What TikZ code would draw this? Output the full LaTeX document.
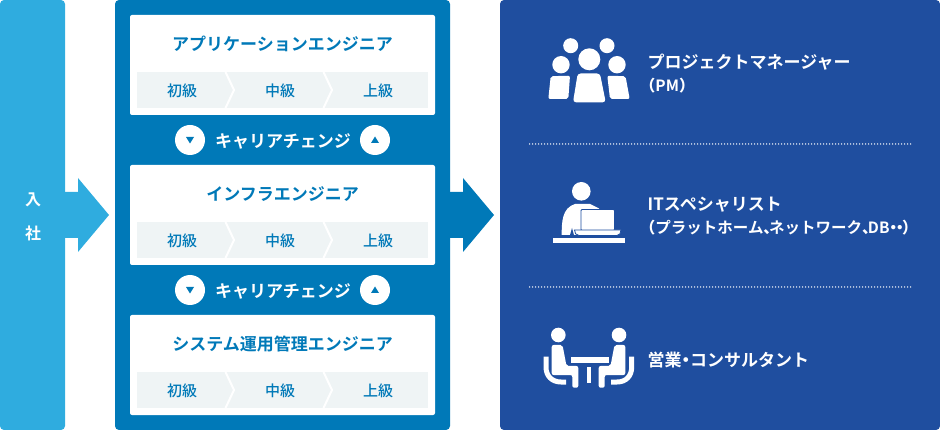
\documentclass[tikz,border=0pt]{standalone}
\usepackage{fontspec}
\setmainfont{Noto Sans CJK JP}[BoldFont={Noto Sans CJK JP Bold}]
\newfontfamily\medfont{Noto Sans CJK JP Medium}
\newfontfamily\haltb{Noto Sans CJK JP Bold}[RawFeature=+halt]
\newfontfamily\haltm{Noto Sans CJK JP Medium}[RawFeature=+halt]
\newcommand{\hp}[1]{{\haltb #1}}
\definecolor{skyc}{HTML}{2FACDF}
\definecolor{midc}{HTML}{0079B8}
\definecolor{navyc}{HTML}{1F4E9F}
\definecolor{bandc}{HTML}{EFF4F5}
\tikzset{
  title/.style={font=\fontsize{17}{17}\selectfont\bfseries,text=midc,inner sep=0pt},
  level/.style={font=\fontsize{15}{15}\selectfont\medfont,text=midc,inner sep=0pt},
  change/.style={font=\fontsize{17}{17}\selectfont\bfseries,text=white,inner sep=0pt},
  role/.style={font=\fontsize{17}{17}\selectfont\bfseries,text=white,inner sep=0pt,anchor=west},
  sub/.style={font=\fontsize{15.5}{16}\selectfont\bfseries,text=white,inner sep=0pt,anchor=west},
  joinc/.style={fill=white,draw=none,circle,minimum size=30pt,inner sep=0pt},
  sep/.style={white,line width=1.5pt,line cap=round,dash pattern=on 0pt off 3pt},
}
\newcommand{\card}[2]{%
  \fill[white,rounded corners=2pt] (130,#1) rectangle (435,#1+100);
  \node[title] at (282.5,#1+29) {#2};
  \fill[bandc] (137,#1+57) rectangle (428,#1+93);
  \draw[white,line width=2pt] (225.5,#1+57) -- (234,#1+75) -- (225.5,#1+93);
  \draw[white,line width=2pt] (323.5,#1+57) -- (332,#1+75) -- (323.5,#1+93);
  \node[level] at (182,#1+76) {初級};
  \node[level] at (280,#1+76) {中級};
  \node[level] at (378,#1+76) {上級};
}
\newcommand{\changerow}[2]{%
  \node[joinc] (dn#1) at (190,#2) {};
  \node[joinc] (up#1) at (375,#2) {};
  \fill[midc] ($(dn#1)+(-4,-3)$) -- ($(dn#1)+(4,-3)$) -- ($(dn#1)+(0,3.5)$) -- cycle;
  \fill[midc] ($(up#1)+(-4,3)$) -- ($(up#1)+(4,3)$) -- ($(up#1)+(0,-3.5)$) -- cycle;
  \node[change] at (283,#2+1) {キャリアチェンジ};
}
\usetikzlibrary{calc}
\begin{document}
\begin{tikzpicture}[x=1pt,y=-1pt]
\useasboundingbox (0,0) rectangle (940,430);
% left column and arrow
\fill[skyc,rounded corners=4pt] (0,0) rectangle (65,430);
\fill[skyc] (64,192) -- (78,192) -- (78,178) -- (109,215) -- (78,252) -- (78,238) -- (64,238) -- cycle;
\node[font=\fontsize{16}{16}\selectfont\bfseries,text=white,inner sep=0pt] (nyu) at (33,200) {入};
\node[font=\fontsize{16}{16}\selectfont\bfseries,text=white,inner sep=0pt] (sha) at (33,233) {社};
% middle column and arrow
\fill[midc,rounded corners=4pt] (115,0) rectangle (450,430);
\fill[midc] (449,192) -- (463,192) -- (463,178) -- (494,215) -- (463,252) -- (463,238) -- (449,238) -- cycle;
\card{15}{アプリケーションエンジニア}
\card{165}{インフラエンジニア}
\card{315}{システム運用管理エンジニア}
\changerow{a}{140}
\changerow{b}{290}
% right column
\fill[navyc,rounded corners=4pt] (500,0) rectangle (940,430);
\draw[sep] (529.5,144) -- (911,144);
\draw[sep] (529.5,287) -- (911,287);
\node[role] at (647.5,62) {プロジェクトマネージャー};
\node[sub] at (647.5,86) {\hp{（}PM\hp{）}};
\node[role] at (647.5,205) {ITスペシャリスト};
\node[sub] at (647.5,228) {\hp{（}プラットホーム\hp{、}\kern-2ptネットワーク\hp{、}\kern-2ptDB{\haltm ・}\kern-1.5pt{\haltm ・}\kern-1.5pt\hp{）}};
\node[role] at (647.5,360) {営業\hp{・}コンサルタント};
% icon 1: group
\fill[white] (570.7,45.7) circle (7.5) (607,45.7) circle (7.5)
  (561,64.7) circle (8.7) (617,64.7) circle (8.7) (589.3,59.3) circle (11);
\fill[white,rounded corners=2pt] (548.3,99) -- (550.7,76.2) -- (570,75.7) -- (568.3,99) -- cycle;
\fill[white,rounded corners=3pt] (573,102.3) -- (577.7,73.5) -- (600,73.5) -- (605.7,102.3) -- cycle;
\fill[white,rounded corners=2pt] (607.3,75.7) -- (625.5,76.2) -- (629.7,99) -- (610,99) -- cycle;
% icon 2: person at a laptop
\fill[white] (581.3,191.3) circle (9.3);
\fill[white] (561.7,235) .. controls (561.7,222) and (562,208) .. (575,204) -- (590,204) -- (599,208.5) -- (599,235) -- cycle;
\draw[navyc,line width=0.8pt,fill=white,rounded corners=1pt] (581,209.5) -- (614.5,209.5) -- (614.5,230.5) -- (581,230.5) -- cycle;
\fill[navyc] (570,235) -- (572,228) -- (574,235.2) -- cycle;
\draw[navyc,line width=0.8pt,fill=white] (574.5,230) -- (621,230) .. controls (621,233) and (619.5,235.5) .. (617,235.5) -- (579,235.5) .. controls (576,235.5) and (574.5,233) .. (574.5,230) -- cycle;
\fill[white] (553,237.7) rectangle (625,243.3);
% icon 3: two people at a table
\fill[white] (558.3,335) circle (7.3) (619,335) circle (7.3);
\fill[white,rounded corners=2pt] (551.7,345) -- (562.5,345) -- (566.5,366) -- (578.3,366) -- (578.3,387.7) -- (572.3,387.7) -- (572.3,375) -- (551.7,375) -- cycle;
\fill[white,rounded corners=2pt] (625.3,345) -- (614.5,345) -- (610.5,366) -- (598.7,366) -- (598.7,387.7) -- (604.7,387.7) -- (604.7,375) -- (625.3,375) -- cycle;
\draw[white,line width=5pt] (546,356.7) -- (546,367) .. controls (546,376) and (552,382) .. (561,382) -- (566,382);
\draw[white,line width=5pt] (631.7,356.7) -- (631.7,367) .. controls (631.7,376) and (626,382) .. (617,382) -- (611,382);
\fill[white] (570.7,357.3) rectangle (609.3,363.3);
\fill[white] (586.7,366.7) rectangle (591.3,382.5);
\end{tikzpicture}
\end{document}
